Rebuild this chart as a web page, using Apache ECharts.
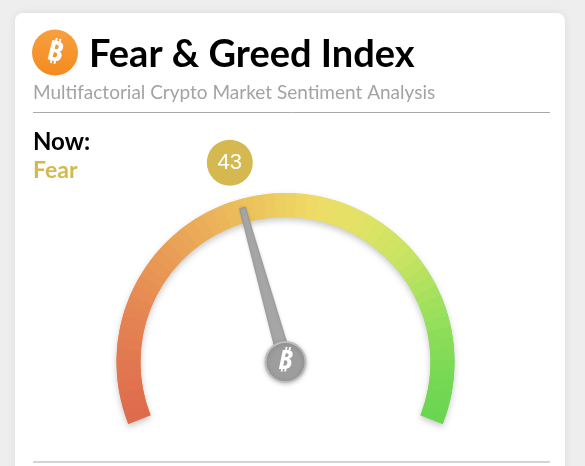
<!DOCTYPE html>
<html>
<head>
<meta charset="utf-8">
<script src="https://cdn.jsdelivr.net/npm/echarts@6/dist/echarts.min.js"></script>
<style>
html,body{margin:0;padding:0;background:#eeeeee;}
#chart{width:585px;height:466px;}
</style>
</head>
<body>
<div id="chart"></div>
<script>
// ---- data ----
var indexValue = [43];
var sentimentLabel = ['Fear'];
var scaleRange = [0, 100];
var titleText = 'Fear & Greed Index';
var subtitleText = 'Multifactorial Crypto Market Sentiment Analysis';
var nowText = 'Now:';
var coinSymbol = '\u20BF';

// ---- style helpers ----
var keyColors = [
  [0.00, [221, 106, 76]],
  [0.15, [228, 128, 82]],
  [0.30, [233, 160, 86]],
  [0.45, [236, 196, 92]],
  [0.55, [238, 220, 102]],
  [0.62, [228, 226, 102]],
  [0.72, [200, 228, 98]],
  [0.82, [156, 224, 92]],
  [0.91, [124, 218, 86]],
  [1.00, [104, 212, 80]]
];
function colorAt(t) {
  for (var i = 1; i < keyColors.length; i++) {
    if (t <= keyColors[i][0]) {
      var a = keyColors[i - 1], b = keyColors[i];
      var f = (t - a[0]) / (b[0] - a[0]);
      var c = a[1].map(function (v, k) { return Math.round(v + (b[1][k] - v) * f); });
      return 'rgb(' + c.join(',') + ')';
    }
  }
  return 'rgb(' + keyColors[keyColors.length - 1][1].join(',') + ')';
}
var segs = 60, bandColors = [];
for (var s = 1; s <= segs; s++) bandColors.push([s / segs, colorAt((s - 0.5) / segs)]);
var backdropGradient = new echarts.graphic.LinearGradient(0, 0, 1, 0, [
  {offset: 0.00, color: 'rgb(226,120,80)'},
  {offset: 0.25, color: 'rgb(234,165,86)'},
  {offset: 0.50, color: 'rgb(238,218,100)'},
  {offset: 0.75, color: 'rgb(180,226,94)'},
  {offset: 1.00, color: 'rgb(110,214,82)'}
]);

var gaugeCenter = [285.5, 362];
var startAngle = 201.5, endAngle = -21.5;
var span = startAngle - endAngle;
var gold = '#d5b84f';

var gaugeBase = {
  type: 'gauge',
  center: gaugeCenter, radius: 169,
  startAngle: startAngle, endAngle: endAngle,
  min: scaleRange[0], max: scaleRange[1],
  splitLine: {show: false}, axisTick: {show: false}, axisLabel: {show: false},
  title: {show: false}
};

var chart = echarts.init(document.getElementById('chart'), null, {renderer: 'canvas'});
chart.setOption({
  backgroundColor: '#eeeeee',
  animation: false,
  graphic: [
    {type: 'rect', z: 0, shape: {x: 15, y: 13, width: 550, height: 470, r: 8},
     style: {fill: '#ffffff', shadowBlur: 8, shadowColor: 'rgba(0,0,0,0.08)'}},
    {type: 'circle', z: 1, shape: {cx: 55, cy: 52.5, r: 23},
     style: {fill: new echarts.graphic.LinearGradient(0, 0, 0, 1, [{offset: 0, color: '#f7a040'}, {offset: 1, color: '#f48a1e'}])}},
    {type: 'text', z: 2, x: 55, y: 53, rotation: -0.24,
     style: {text: coinSymbol, fill: '#ffffff', font: 'bold 28px "Noto Sans"', align: 'center', verticalAlign: 'middle'}},
    {type: 'text', z: 2, x: 89, y: 55,
     style: {text: titleText, fill: '#000000', font: 'bold 38px Lato', verticalAlign: 'middle'}},
    {type: 'text', z: 2, x: 33, y: 93,
     style: {text: subtitleText, fill: '#a3a3a3', font: '19px Lato', verticalAlign: 'middle'}},
    {type: 'line', z: 2, shape: {x1: 33, y1: 112.5, x2: 550, y2: 112.5}, style: {stroke: '#aaaaaa', lineWidth: 1}},
    {type: 'text', z: 2, x: 33, y: 142,
     style: {text: nowText, fill: '#000000', font: 'bold 24px Lato', verticalAlign: 'middle'}},
    {type: 'text', z: 2, x: 33, y: 171,
     style: {text: sentimentLabel[0], fill: gold, font: 'bold 23px Lato', verticalAlign: 'middle'}},
    {type: 'line', z: 2, shape: {x1: 33, y1: 462, x2: 550, y2: 462}, style: {stroke: '#d4d4d4', lineWidth: 2}}
  ],
  polar: {center: gaugeCenter, radius: 207},
  angleAxis: {type: 'value', startAngle: startAngle, min: scaleRange[0],
    max: scaleRange[0] + (scaleRange[1] - scaleRange[0]) * 360 / span, show: false},
  radiusAxis: {type: 'value', min: 0, max: 1, show: false},
  series: [
    Object.assign({}, gaugeBase, {
      z: 2,
      axisLine: {lineStyle: {width: 24, color: [[1, backdropGradient]],
        shadowColor: 'rgba(0,0,0,0.22)', shadowBlur: 6, shadowOffsetY: 3}},
      pointer: {show: false}, anchor: {show: false}, detail: {show: false},
      data: [{value: indexValue[0]}]
    }),
    Object.assign({}, gaugeBase, {
      z: 3,
      axisLine: {lineStyle: {width: 24, color: bandColors}},
      pointer: {icon: 'path://M4,0 L10,0 L14,100 L0,100 Z', length: 160, width: 14,
        itemStyle: {color: '#a6a6a6', borderColor: '#8f8f8f', borderWidth: 0.6,
          shadowColor: 'rgba(0,0,0,0.15)', shadowBlur: 3}},
      anchor: {show: false},
      detail: {show: false},
      data: [{value: indexValue[0]}]
    }),
    {
      type: 'scatter', coordinateSystem: 'polar', z: 4,
      symbol: 'circle', symbolSize: 40,
      itemStyle: {color: '#9d9d9d', opacity: 1, borderColor: '#bdbdbd', borderWidth: 2,
        shadowColor: 'rgba(0,0,0,0.2)', shadowBlur: 4, shadowOffsetY: 1},
      label: {show: true, position: 'inside', color: '#ffffff', fontSize: 26,
        fontWeight: 'bold', fontStyle: 'italic', fontFamily: 'Noto Sans',
        formatter: function () { return coinSymbol; }},
      data: [[0, indexValue[0]]]
    },
    {
      type: 'scatter', coordinateSystem: 'polar', z: 4,
      symbol: 'circle', symbolSize: 46,
      itemStyle: {color: gold, opacity: 1},
      label: {show: true, position: 'inside', color: '#ffffff', fontSize: 22,
        fontFamily: 'Liberation Sans', formatter: function (p) { return p.value[1]; }},
      data: [[1, indexValue[0]]]
    }
  ]
});
</script>
</body>
</html>
